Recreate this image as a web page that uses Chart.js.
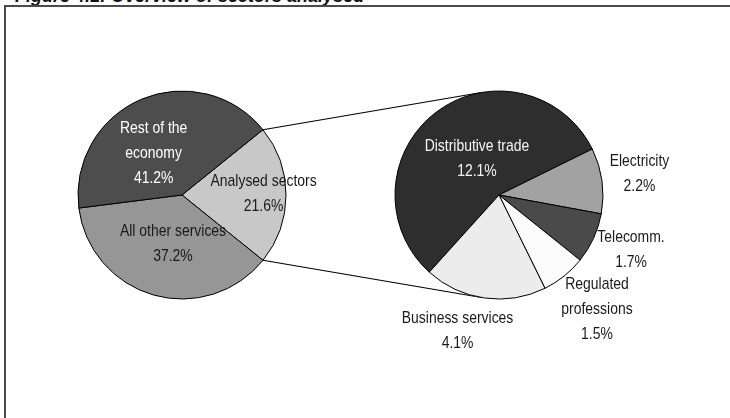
<!DOCTYPE html>
<html>
<head>
<meta charset="utf-8">
<script src="https://cdn.jsdelivr.net/npm/chart.js@4.4.1/dist/chart.umd.min.js"></script>
<style>
  html, body { margin: 0; padding: 0; background: #fff; }
  body { width: 730px; height: 418px; overflow: hidden; position: relative; }
  #titre { position: absolute; left: 15px; top: -13px; font: italic bold 18px "Liberation Sans", Arial, sans-serif; line-height: 18px; color: #111; white-space: nowrap; }
  #cadre { position: absolute; left: 4px; top: 5px; width: 800px; height: 500px; border-left: 2px solid #4a4a4a; border-top: 2px solid #4a4a4a; }
  canvas { position: absolute; left: 0; top: 0; }
</style>
</head>
<body>
<div id="titre">Figure 4.1: Overview of sectors analysed</div>
<div id="cadre"></div>
<canvas id="pie-gauche" width="730" height="418"></canvas>
<canvas id="pie-droite" width="730" height="418"></canvas>
<script>
// Répartition de l'économie (% du total)
const secteurs = [['Analysed sectors'], ['All other services'], ['Rest of the', 'economy']];
const parts = [21.6, 37.2, 41.2];
const couleurs = ['#c8c8c8', '#969696', '#4d4d4d'];
const couleursTexte = ['#1a1a1a', '#1a1a1a', '#ffffff'];
const placement = [{ f: 0.785, da: -2 }, { f: 0.46, da: -5 }, { f: 0.50, da: -10 }];

// Détail des secteurs analysés
const secteursDetail = [['Distributive trade'], ['Electricity'], ['Telecomm.'], ['Regulated', 'professions'], ['Business services']];
const partsDetail = [12.1, 2.2, 1.7, 1.5, 4.1];
const couleursDetail = ['#2e2e2e', '#a2a2a2', '#4a4a4a', '#fbfbfb', '#ececec'];
const couleursTexteDetail = ['#f4f4f4', '#1a1a1a', '#1a1a1a', '#1a1a1a', '#1a1a1a'];
const placementDetail = [{ f: 0.417, da: 6.5 }, { f: 1.368, da: -1.2 }, { f: 1.37, da: -2.5 }, { f: 1.438, da: -2.2 }, { f: 1.349, da: 9.25 }];

// Police étroite si elle existe, sinon on compresse la police normale
function choisirPolice() {
    const c = document.createElement('canvas').getContext('2d');
    c.font = '17px monospace';
    const w0 = c.measureText('Distributive trade').width;
    c.font = '17px "Liberation Sans Narrow", monospace';
    const w1 = c.measureText('Distributive trade').width;
    if (w0 !== w1) return { font: '17px "Liberation Sans Narrow"', sx: 1 };
    return { font: '17px "Liberation Sans", Arial, sans-serif', sx: 0.82 };
}
const police = choisirPolice();

// Libellés : nom du secteur + pourcentage
const etiquettes = {
    id: 'etiquettes',
    afterDatasetsDraw(chart, args, opts) {
        const ctx = chart.ctx;
        const valeurs = chart.data.datasets[0].data;
        const lh = 25, capH = 12.2;
        ctx.save();
        ctx.font = police.font;
        ctx.textAlign = 'center';
        ctx.textBaseline = 'alphabetic';
        chart.getDatasetMeta(0).data.forEach((arc, i) => {
            const p = arc.getProps(['x', 'y', 'startAngle', 'endAngle', 'outerRadius'], true);
            const pos = opts.placement[i];
            const a = (p.startAngle + p.endAngle) / 2 + pos.da * Math.PI / 180;
            const cx = p.x + Math.cos(a) * p.outerRadius * pos.f;
            const cy = p.y + Math.sin(a) * p.outerRadius * pos.f;
            const lignes = chart.data.labels[i].concat(valeurs[i].toFixed(1) + '%');
            const y0 = cy - ((lignes.length - 1) * lh - capH) / 2;
            ctx.fillStyle = opts.couleurs[i];
            lignes.forEach((txt, k) => {
                ctx.save();
                ctx.translate(cx, y0 + k * lh);
                ctx.scale(police.sx, 1);
                ctx.fillText(txt, 0, 0);
                ctx.restore();
            });
        });
        ctx.restore();
    }
};

function optionsPie(padding, place, coulTxt) {
    return {
        responsive: false,
        animation: false,
        events: [],
        layout: { padding: padding },
        plugins: {
            legend: { display: false },
            tooltip: { enabled: false },
            etiquettes: { placement: place, couleurs: coulTxt }
        }
    };
}

// Camembert de gauche : la part analysée est centrée à droite
const graphGauche = new Chart(document.getElementById('pie-gauche'), {
    type: 'pie',
    data: {
        labels: secteurs,
        datasets: [{
            data: parts,
            backgroundColor: couleurs,
            borderColor: '#000',
            borderWidth: 1,
            radius: 104,
            rotation: 90 - parts[0] * 180 / 100
        }]
    },
    options: optionsPie({ left: 0, right: 366, top: 0, bottom: 28 }, placement, couleursTexte),
    plugins: [etiquettes]
});

// Traits de liaison entre la part analysée et le détail
const liaisons = {
    id: 'liaisons',
    beforeDatasetsDraw(chart) {
        const src = graphGauche.getDatasetMeta(0).data[0].getProps(['x', 'y', 'startAngle', 'endAngle', 'outerRadius'], true);
        const cible = chart.getDatasetMeta(0).data[0].getProps(['x', 'y', 'outerRadius'], true);
        const ctx = chart.ctx;
        ctx.save();
        ctx.strokeStyle = '#000';
        ctx.lineWidth = 1.2;
        [src.startAngle, src.endAngle].forEach((ang, k) => {
            const px = src.x + Math.cos(ang) * src.outerRadius;
            const py = src.y + Math.sin(ang) * src.outerRadius;
            const dx = cible.x - px, dy = cible.y - py;
            const d = Math.hypot(dx, dy);
            const r = cible.outerRadius;
            const t = Math.sqrt(d * d - r * r);
            const theta = Math.atan2(dy, dx);
            const alpha = Math.asin(r / d);
            const dir = k === 0 ? theta - alpha : theta + alpha;
            ctx.beginPath();
            ctx.moveTo(px, py);
            ctx.lineTo(px + t * Math.cos(dir), py + t * Math.sin(dir));
            ctx.stroke();
        });
        ctx.restore();
    }
};

// Camembert de droite : détail des secteurs analysés
const graphDroite = new Chart(document.getElementById('pie-droite'), {
    type: 'pie',
    data: {
        labels: secteursDetail,
        datasets: [{
            data: partsDetail,
            backgroundColor: couleursDetail,
            borderColor: '#000',
            borderWidth: 1,
            radius: 104,
            rotation: 222.1
        }]
    },
    options: optionsPie({ left: 268, right: 0, top: 0, bottom: 28 }, placementDetail, couleursTexteDetail),
    plugins: [liaisons, etiquettes]
});
</script>
</body>
</html>
